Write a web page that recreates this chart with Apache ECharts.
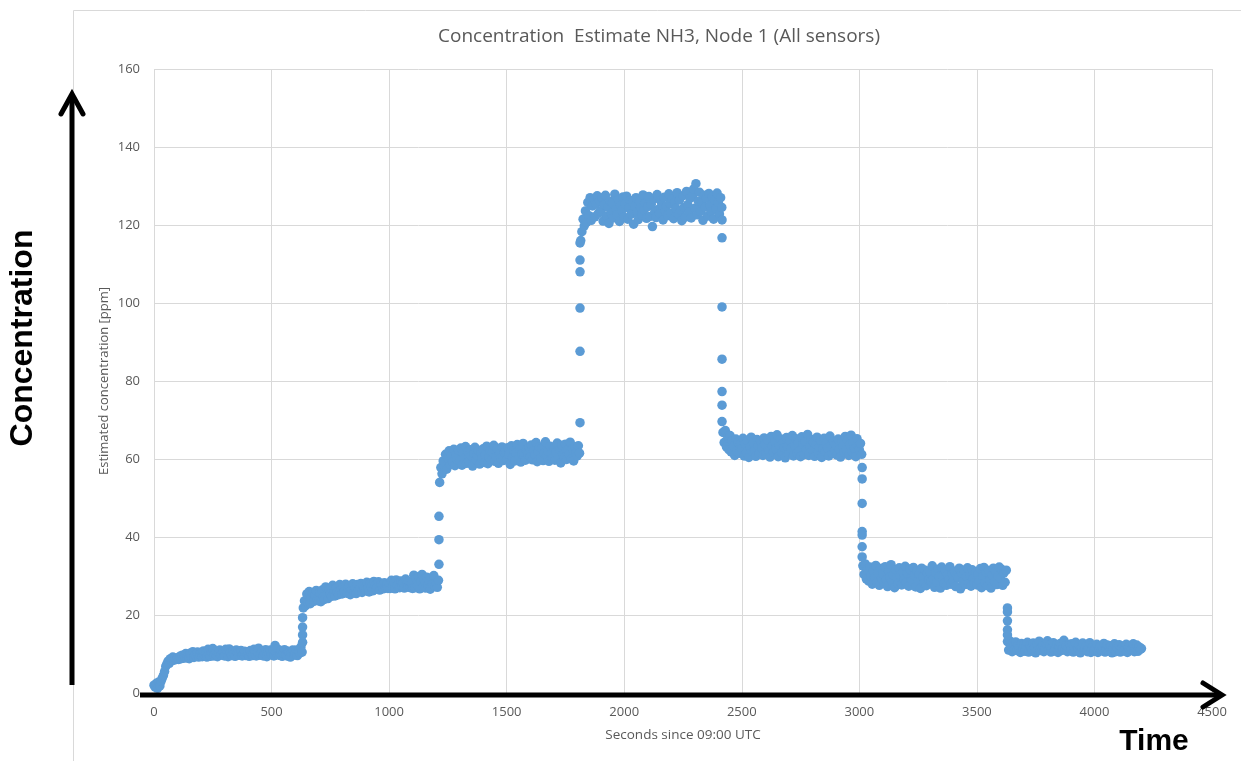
<!DOCTYPE html>
<html>
<head>
<meta charset="utf-8">
<script src="https://cdn.jsdelivr.net/npm/echarts@6/dist/echarts.min.js"></script>
<style>
  html, body { margin: 0; padding: 0; background: #fff; }
  #chart { width: 1241px; height: 761px; }
</style>
</head>
<body>
<div id="chart"></div>
<script>
// sampled every 5 s, starting at 0 s (one row = 100 s)
var sampleStep = 5;
var conc = [
  2.0, 1.5, 2.5, 1.2, 2.8, 1.8, 3.0, 3.8, 4.5, 5.5, 6.8, 7.5, 8.2, 7.6, 8.8, 8.3, 9.2, 8.4, 9.0, 8.6,
  9.0, 8.6, 9.4, 8.8, 9.7, 8.9, 9.3, 10.1, 9.0, 9.6, 8.8, 10.2, 9.2, 10.6, 9.1, 9.8, 9.4, 10.5, 9.2, 9.9,
  10.3, 9.3, 10.8, 9.6, 10.2, 9.2, 11.2, 9.8, 9.4, 10.5, 11.4, 9.5, 10.1, 10.7, 9.3, 10.4, 11.0, 9.7, 10.0, 10.6,
  9.5, 11.2, 10.1, 9.3, 11.3, 10.4, 9.6, 10.8, 9.9, 9.4, 11.0, 10.3, 9.7, 10.5, 10.9, 9.5, 10.0, 10.7, 9.6, 10.3,
  10.6, 9.4, 10.9, 9.9, 9.6, 11.2, 10.2, 9.5, 10.5, 11.5, 9.7, 10.3, 10.8, 9.5, 10.1, 11.1, 9.3, 10.6, 10.0, 11.0,
  9.8, 10.8, 9.5, 12.2, 10.3, 11.3, 9.7, 10.4, 10.9, 9.4, 10.2, 11.1, 9.9, 9.5, 10.7, 10.4, 9.2, 10.5, 11.0, 9.7,
  10.0, 11.0, 9.6, 10.7, 10.2, 11.8, 10.5, 21.8, 23.6, 22.4, 25.4, 23.0, 26.0, 22.9, 24.6, 25.8, 23.5, 25.1, 26.3, 24.0,
  23.6, 25.8, 23.4, 26.4, 24.6, 24.0, 27.2, 25.1, 24.2, 26.5, 25.4, 24.8, 27.6, 25.9, 24.9, 27.0, 25.8, 25.2, 27.8, 26.3,
  25.4, 27.4, 26.0, 27.9, 25.6, 26.9, 27.5, 25.2, 26.6, 28.0, 25.9, 27.1, 25.5, 27.8, 26.4, 26.9, 28.1, 25.8, 27.5, 26.7,
  26.3, 28.4, 26.9, 25.9, 28.2, 27.3, 26.2, 28.6, 27.6, 26.6, 27.1, 28.5, 26.4, 27.9, 27.5, 26.7, 28.3, 27.0, 27.8, 26.8,
  28.1, 26.8, 28.9, 27.3, 28.4, 26.7, 29.0, 27.6, 28.0, 27.0, 28.7, 27.4, 28.3, 26.9, 29.2, 27.8, 27.2, 28.6, 27.0, 28.2,
  26.8, 30.2, 27.0, 29.3, 27.5, 29.8, 26.7, 28.6, 30.4, 27.2, 29.0, 26.9, 29.7, 27.6, 28.8, 26.6, 29.5, 27.9, 30.1, 27.3,
  28.3, 27.1, 28.9, 54.0, 57.8, 56.2, 59.5, 58.0, 61.2, 57.4, 60.3, 62.1, 58.6, 60.8, 59.2, 62.5, 58.3, 61.0, 59.8, 62.3,
  59.6, 62.8, 58.4, 61.5, 60.1, 63.2, 58.9, 61.9, 59.3, 62.4, 60.7, 58.2, 61.3, 63.0, 59.8, 60.9, 62.2, 58.7, 61.6, 60.3,
  62.6, 59.1, 61.0, 63.3, 58.8, 60.5, 62.0, 59.7, 61.8, 63.5, 59.4, 60.6, 62.7, 58.9, 61.4, 60.2, 63.1, 59.6, 61.7, 62.3,
  59.9, 62.9, 61.1, 58.6, 63.4, 60.4, 62.1, 59.5, 61.6, 63.7, 60.0, 62.5, 59.2, 61.3, 64.0, 60.8, 59.7, 62.4, 61.2, 63.0,
  60.6, 63.6, 59.8, 62.2, 61.0, 64.2, 59.3, 61.9, 63.1, 60.2, 62.7, 59.6, 61.5, 64.4, 60.9, 62.0, 59.4, 63.3, 61.4, 60.1,
  62.8, 59.7, 61.7, 64.1, 60.3, 62.5, 59.0, 63.5, 61.1, 60.4, 63.8, 59.9, 62.3, 61.2, 64.3, 60.0, 62.6, 59.5, 63.2, 61.5,
  60.8, 63.4, 61.5, 116.0, 118.3, 121.5, 119.8, 123.6, 120.7, 125.8, 122.4, 127.0, 121.2, 124.9, 126.8, 122.1, 125.3, 127.5, 123.0, 126.2,
  123.5, 126.9, 121.0, 125.2, 127.6, 122.3, 124.6, 120.4, 126.1, 123.0, 125.7, 121.8, 127.9, 124.1, 122.6, 126.5, 120.9, 125.0, 123.7, 127.2,
  122.0, 125.4, 127.4, 121.5, 124.3, 126.3, 122.8, 125.9, 120.2, 124.8, 127.0, 123.2, 121.4, 126.0, 124.4, 122.5, 127.7, 123.9, 125.6, 121.7,
  124.7, 127.3, 122.2, 125.3, 119.6, 126.6, 123.4, 121.9, 127.8, 124.0, 122.9, 126.2, 125.1, 121.3, 127.1, 123.6, 124.9, 122.4, 128.0, 125.5,
  123.1, 126.7, 121.6, 125.8, 124.2, 128.3, 122.7, 126.4, 123.8, 121.1, 127.5, 124.5, 122.0, 128.6, 125.2, 123.3, 126.8, 121.8, 127.4, 129.2,
  124.3, 130.6, 122.6, 126.1, 128.4, 123.5, 125.7, 121.2, 127.6, 124.6, 126.9, 122.3, 128.1, 125.0, 123.4, 127.3, 121.5, 126.4, 124.1, 128.2,
  125.8, 122.8, 127.0, 124.5, 66.8, 64.2, 67.3, 63.1, 65.8, 62.4, 66.0, 61.8, 64.7, 63.2, 60.9, 65.1, 62.0, 64.3, 61.5, 63.8,
  62.6, 65.3, 60.8, 63.9, 61.7, 64.8, 60.4, 63.0, 65.6, 61.9, 64.1, 62.3, 60.7, 65.0, 63.5, 61.4, 64.6, 62.8, 60.9, 65.4,
  63.7, 61.2, 64.9, 62.1, 60.5, 65.8, 63.3, 61.8, 64.4, 62.5, 66.2, 60.6, 63.6, 65.1, 61.6, 64.0, 62.9, 60.3, 65.5, 63.1,
  61.3, 64.7, 62.7, 66.0, 60.8, 63.4, 65.2, 61.5, 64.2, 62.0, 60.6, 65.7, 63.8, 61.1, 64.5, 62.4, 66.3, 60.9, 63.2, 65.0,
  62.2, 64.3, 60.7, 63.9, 65.6, 61.6, 63.0, 64.8, 60.4, 62.6, 65.3, 61.9, 64.1, 62.8, 60.8, 65.9, 63.5, 61.4, 64.6, 62.1,
  63.6, 61.0, 65.1, 62.5, 60.5, 64.4, 63.2, 61.7, 65.8, 62.3, 64.9, 60.9, 63.7, 66.1, 61.8, 64.2, 62.6, 60.6, 65.2, 63.3,
  62.4, 64.0, 61.2, 32.6, 30.4, 33.1, 29.2, 31.8, 28.7, 32.3, 30.0, 27.9, 31.4, 29.6, 32.7, 28.4, 30.9, 27.6, 31.9, 29.3,
  30.6, 28.1, 32.4, 29.0, 27.3, 31.2, 29.8, 32.9, 28.5, 30.3, 27.0, 31.6, 29.4, 28.0, 32.1, 30.1, 27.7, 31.0, 29.1, 32.5,
  28.3, 30.7, 27.4, 31.8, 29.5, 28.8, 32.2, 30.2, 27.2, 31.3, 28.9, 30.5, 26.8, 32.0, 29.7, 28.2, 31.5, 27.5, 30.8, 29.0,
  31.1, 28.6, 32.6, 29.3, 27.1, 30.9, 28.4, 31.7, 29.9, 26.9, 32.3, 30.0, 28.1, 31.4, 27.6, 30.4, 29.2, 32.4, 27.9, 30.6,
  28.7, 31.2, 27.3, 30.1, 29.6, 32.0, 26.7, 30.8, 28.5, 31.5, 27.8, 29.9, 32.1, 28.0, 30.3, 27.4, 31.6, 29.3, 28.2, 31.0,
  27.7, 30.5, 28.9, 31.9, 27.0, 29.8, 32.2, 28.3, 30.9, 27.5, 31.4, 29.0, 26.9, 30.2, 32.0, 28.6, 31.1, 27.8, 30.0, 32.3,
  29.4, 31.7, 27.6, 30.8, 28.4, 31.5, 13.2, 11.0, 13.4, 11.8, 10.6, 12.9, 11.2, 13.1, 10.9, 12.3, 11.5, 10.4, 12.7, 11.1,
  12.4, 10.7, 11.9, 13.0, 10.5, 12.2, 11.4, 10.8, 12.8, 11.6, 10.3, 12.5, 11.0, 13.3, 10.9, 11.8, 12.1, 10.6, 11.3, 12.6,
  13.4, 11.2, 12.3, 10.5, 11.7, 12.9, 10.8, 11.5, 12.4, 10.4, 11.9, 12.7, 10.9, 11.3, 13.5, 11.0, 12.2, 10.6, 11.8, 12.5,
  11.1, 12.6, 10.5, 11.9, 13.0, 10.8, 11.4, 12.3, 10.3, 11.7, 12.8, 10.9, 11.2, 12.1, 10.6, 11.6, 12.9, 10.4, 11.5, 12.2,
  10.7, 11.8, 12.5, 10.4, 11.3, 12.0, 10.9, 11.6, 12.7, 10.5, 11.1, 12.3, 10.8, 11.7, 12.1, 10.3, 11.4, 12.6, 10.6, 11.9,
  11.2, 12.4, 10.5, 11.6, 12.0, 10.8, 11.3, 12.5, 10.4, 11.7, 12.2, 10.9, 11.1, 12.6, 10.6, 11.5, 12.3, 10.7, 11.8, 11.2,
  11.4
];

// readings caught mid-step
var jumpTimes = [632, 632, 632, 632,
  1212, 1212, 1212,
  1812, 1812, 1812, 1812, 1812, 1812,
  2416, 2416, 2416, 2416, 2416, 2416, 2416,
  3012, 3012, 3012, 3012, 3012, 3012, 3012,
  3630, 3630, 3630, 3630, 3630];
var jumpValues = [13.0, 14.9, 16.9, 19.3,
  33.0, 39.3, 45.3,
  69.3, 87.6, 98.7, 108.0, 111.0, 115.4,
  121.3, 116.7, 99.0, 85.6, 77.3, 73.8, 69.6,
  57.8, 54.9, 48.6, 41.4, 40.5, 37.5, 34.9,
  21.8, 20.8, 18.5, 16.2, 14.9];

var points = [];
for (var i = 0; i < conc.length; i++) {
  points.push([i * sampleStep, conc[i]]);
}
for (var j = 0; j < jumpTimes.length; j++) {
  points.push([jumpTimes[j], jumpValues[j]]);
}

var labelColor = '#595959';
var gridColor = '#D9D9D9';
var font = '"Open Sans", sans-serif';

var myChart = echarts.init(document.getElementById('chart'));
var option = {
  animation: false,
  grid: { left: 154, right: 29, top: 69, bottom: 68 },
  xAxis: {
    type: 'value',
    min: 0, max: 4500, interval: 500,
    axisLine: { show: false },
    axisTick: { show: false },
    splitLine: { show: true, lineStyle: { color: gridColor, width: 1 } },
    axisLabel: { color: labelColor, fontSize: 13, fontFamily: font, margin: 13,
      formatter: function (v) { return String(v); } }
  },
  yAxis: {
    type: 'value',
    min: 0, max: 160, interval: 20,
    axisLine: { show: false },
    axisTick: { show: false },
    splitLine: { show: true, lineStyle: { color: gridColor, width: 1 } },
    axisLabel: { color: labelColor, fontSize: 13, fontFamily: font, margin: 14 }
  },
  series: [{
    type: 'scatter',
    data: points,
    symbolSize: 9.5,
    itemStyle: { color: '#5B9BD5', opacity: 1 }
  }],
  graphic: [
    // outer chart border
    { type: 'rect', shape: { x: 73.5, y: 10.5, width: 1200, height: 800 },
      style: { fill: null, stroke: gridColor, lineWidth: 1 }, z: -1 },
    { type: 'text', x: 659, y: 37,
      style: { text: 'Concentration  Estimate NH3, Node 1 (All sensors)', font: '19px ' + font,
        fill: labelColor, align: 'center', verticalAlign: 'middle' } },
    { type: 'text', x: 104, y: 381, rotation: Math.PI / 2,
      style: { text: 'Estimated concentration [ppm]', font: '13px ' + font,
        fill: labelColor, align: 'center', verticalAlign: 'middle' } },
    { type: 'text', x: 683, y: 735,
      style: { text: 'Seconds since 09:00 UTC', font: '13.5px ' + font,
        fill: labelColor, align: 'center', verticalAlign: 'middle' } },
    // hand-drawn arrows
    { type: 'line', shape: { x1: 72, y1: 685, x2: 72, y2: 95 },
      style: { stroke: '#000', lineWidth: 5 }, z: 100 },
    { type: 'polyline', shape: { points: [[61, 114], [72, 94], [83, 114]] },
      style: { stroke: '#000', lineWidth: 5, fill: null, lineCap: 'round', lineJoin: 'miter' }, z: 100 },
    { type: 'line', shape: { x1: 140, y1: 695, x2: 1220, y2: 695 },
      style: { stroke: '#000', lineWidth: 5 }, z: 100 },
    { type: 'polyline', shape: { points: [[1203, 683], [1222, 695], [1203, 707]] },
      style: { stroke: '#000', lineWidth: 5, fill: null, lineCap: 'round', lineJoin: 'miter' }, z: 100 },
    { type: 'text', x: 23, y: 338, rotation: Math.PI / 2,
      style: { text: 'Concentration', font: 'bold 32px "Liberation Sans", Arial, sans-serif',
        fill: '#000', align: 'center', verticalAlign: 'middle' }, z: 100 },
    { type: 'text', x: 1154, y: 742,
      style: { text: 'Time', font: 'bold 30px "Liberation Sans", Arial, sans-serif',
        fill: '#000', align: 'center', verticalAlign: 'middle' }, z: 100 }
  ]
};
myChart.setOption(option);
</script>
</body>
</html>
